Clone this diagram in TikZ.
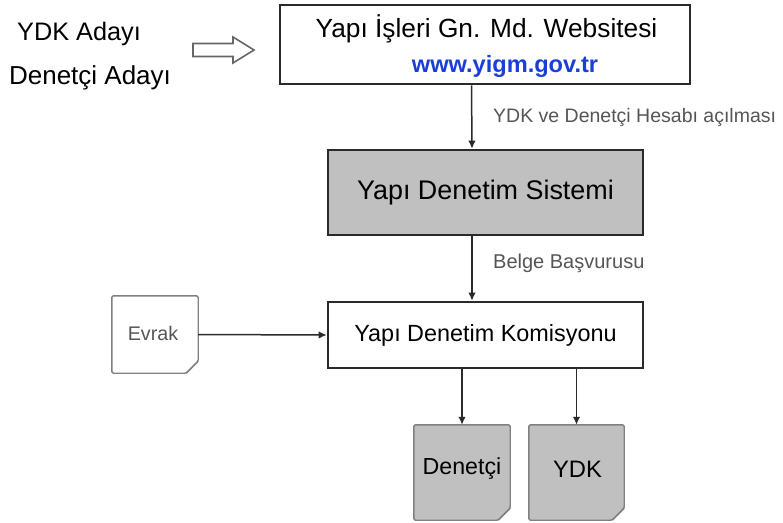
\documentclass[tikz,border=0pt]{standalone}
\usepackage{fontspec}
\setmainfont{Liberation Sans}
\usetikzlibrary{arrows.meta}
\definecolor{boxgray}{HTML}{C0C0C0}
\definecolor{linegray}{HTML}{2A2A2A}
\definecolor{labelgray}{HTML}{555555}
\definecolor{urlblue}{HTML}{1A3FD6}
\tikzset{
  mainbox/.style={draw=linegray, line width=2.6pt, rectangle, inner sep=0pt},
  arr/.style={draw=linegray, line width=1.5pt, -{Latex[length=8pt,width=7.5pt]}},
  lbl/.style={text=labelgray, font=\fontsize{19.5}{21}\selectfont, inner sep=0pt, anchor=west},
  docbox/.style={rectangle, draw=none, inner sep=0pt},
  docline/.style={draw=gray, line width=1.4pt, line join=round, rounded corners=1.5pt}
}
\newcommand{\docoutline}[2]{%
  \path[docline,fill=#2] (#1.north west) -- (#1.north east) -- ([yshift=12pt]#1.south east) -- ([xshift=-12pt]#1.south east) -- (#1.south west) -- cycle;
  \draw[docline,sharp corners] ([yshift=12pt]#1.south east) -- ([xshift=-6pt,yshift=6pt]#1.south east) -- ([xshift=-12pt]#1.south east);
}
\begin{document}
\begin{tikzpicture}[x=1pt,y=-1pt]
\useasboundingbox (0,0) rectangle (783,522);
% left labels
\node[font=\fontsize{25.3}{27}\selectfont, inner sep=0pt] (ydkaday) at (79,34) {YDK Adayı};
\node[font=\fontsize{26}{28}\selectfont, inner sep=0pt] (denaday) at (90,78) {Denetçi Adayı};
% hollow arrow
\draw[draw=black!60, line width=1.6pt, fill=white, line join=miter]
  (193,43.5) -- (233,43.5) -- (233,37) -- (254,50) -- (233,63) -- (233,56.5) -- (193,56.5) -- cycle;
% top box
\node[mainbox, minimum width=410pt, minimum height=79pt] (web) at (485,44.5) {};
\node[font=\fontsize{26.3}{28}\selectfont, inner sep=0pt] (webtitle) at (486.5,29) {Yapı İşleri Gn. Md. Websitesi};
\node[font=\fontsize{23.6}{25}\bfseries\selectfont, text=urlblue, inner sep=0pt] (weburl) at (505,66) {www.yigm.gov.tr};
% sistem
\node[mainbox, fill=boxgray, minimum width=315pt, minimum height=85pt, font=\fontsize{26.9}{29}\selectfont] (sistem) at (485.5,192.5) {Yapı Denetim Sistemi};
% komisyon
\node[mainbox, fill=white, minimum width=315pt, minimum height=66pt, font=\fontsize{23.4}{25}\selectfont] (komisyon) at (485.5,335) {Yapı Denetim Komisyonu};
% documents
\node[docbox, minimum width=86pt, minimum height=77pt] (evrak) at (155,334.5) {};
\docoutline{evrak}{white}
\node[text=labelgray, font=\fontsize{19.7}{21}\selectfont, inner sep=0pt] (evraktxt) at (153,333) {Evrak};
\node[docbox, minimum width=96pt, minimum height=95pt] (denetci) at (462,472.5) {};
\docoutline{denetci}{boxgray}
\node[font=\fontsize{23.2}{25}\selectfont, inner sep=0pt] (denetcitxt) at (462,469) {Denetçi};
\node[docbox, minimum width=95pt, minimum height=95pt] (ydk) at (576.5,472.5) {};
\docoutline{ydk}{boxgray}
\node[font=\fontsize{23.8}{25}\selectfont, inner sep=0pt] (ydktxt) at (577.5,469) {YDK};
% connectors
\draw[arr] ([xshift=-13.5pt]web.south) -- ([xshift=-13.5pt]sistem.north);
\draw[arr] ([xshift=-13.5pt]sistem.south) -- ([xshift=-13.5pt]komisyon.north);
\draw[arr] (evrak.east) -- (komisyon.west);
\draw[arr] (denetci.north |- komisyon.south) -- (denetci.north);
\draw[arr] (ydk.north |- komisyon.south) -- (ydk.north);
% labels
\node[lbl] (hesap) at (493,117) {YDK ve Denetçi Hesabı açılması};
\node[lbl, font=\fontsize{20}{21}\selectfont] (belge) at (493,263) {Belge Başvurusu};
\end{tikzpicture}
\end{document}
